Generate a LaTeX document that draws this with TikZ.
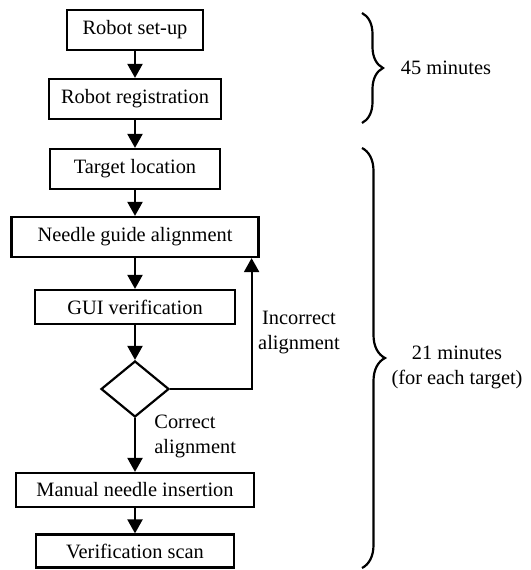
\documentclass[tikz,border=0pt]{standalone}
\usepackage{fontspec}
\setmainfont{Liberation Serif}
\usetikzlibrary{arrows.meta,shapes.geometric,decorations.pathreplacing}

\begin{document}
\begin{tikzpicture}[->,>={Triangle[length=14pt,width=15pt]},line width=2.2pt,
                    x=1pt,y=-1pt,font=\fontsize{20.4}{25}\selectfont]

  \tikzstyle{procbox}=[rectangle,draw,minimum height=40pt,inner sep=0pt]
  \tikzstyle{decision}=[diamond,draw,minimum width=68pt,minimum height=56pt,inner sep=0pt]
  \tikzstyle{timebrace}=[-,decorate,decoration={brace,amplitude=#1}]

  \useasboundingbox (0,0) rectangle (530,570);

  \node[procbox,minimum width=136pt] (RS) at (135,30) {Robot set-up};
  \node[procbox,minimum width=172pt] (RR) [below of=RS,node distance=69pt] {Robot registration};
  \node[procbox,minimum width=170pt] (TL) [below of=RR,node distance=70pt] {Target location};
  \node[procbox,minimum width=247pt] (NG) [below of=TL,node distance=68pt] {Needle guide alignment};
  \node[procbox,minimum width=200pt,minimum height=34pt] (GV) [below of=NG,node distance=70pt] {GUI verification};
  \node[decision] (DEC) [below of=GV,node distance=82pt] {};
  \node[procbox,minimum width=238pt,minimum height=34pt] (MI) [below of=DEC,node distance=101pt] {Manual needle insertion};
  \node[procbox,minimum width=198pt,minimum height=33pt] (VS) [below of=MI,node distance=61pt] {Verification scan};

  \node[align=center] (IA) at (299,333) {Incorrect\\alignment};
  \node[anchor=west,align=left] (CA) at (150,436) {Correct\\alignment};

  \path
  (RS)  edge (RR)
  (RR)  edge (TL)
  (TL)  edge (NG)
  (NG)  edge (GV)
  (GV)  edge (DEC)
  (DEC) edge (MI)
  (MI)  edge (VS);
  \draw (DEC.east) -| ([xshift=-8pt]NG.south east);

  % time spans
  \draw[timebrace=21pt] (362,13) -- (362,123);
  \draw[timebrace=23pt] (362,148) -- (362,568);
  \node (T1) at (446,68) {45 minutes};
  \node[align=center] (T2) at (457,367.5) {21 minutes\\(for each target)};
\end{tikzpicture}
\end{document}
